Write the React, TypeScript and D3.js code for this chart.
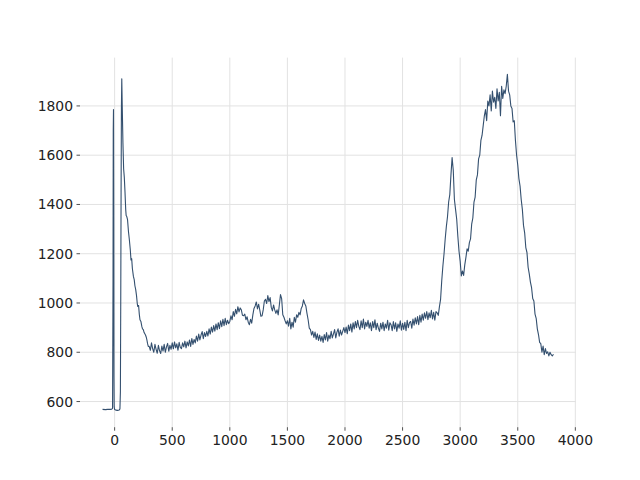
import React from 'react';
import * as d3 from 'd3';

// Leading section (two sharp spikes and the decay), irregular sampling
const headX = [-105, -80, -60, -40, -25, -18, -14, -12, -10, -8, -6, -4, 0, 10, 25, 40, 46, 50, 53, 56, 59, 62, 66, 72, 78, 84, 90, 96, 100, 106, 112, 120, 128, 136, 142, 148, 154, 163, 170, 176, 183, 190, 196, 200, 208, 214, 220, 228, 236, 242, 249, 256, 262, 268, 274, 280, 286, 292];
const headY = [568, 567, 568, 568, 569, 572, 1100, 1700, 1785, 1400, 700, 578, 568, 565, 564, 566, 570, 640, 1000, 1450, 1800, 1910, 1800, 1650, 1545, 1510, 1450, 1380, 1355, 1350, 1338, 1290, 1256, 1215, 1175, 1180, 1140, 1108, 1095, 1070, 1054, 1030, 1000, 986, 990, 955, 932, 925, 905, 895, 892, 880, 875, 870, 862, 850, 835, 824];

// Main section, sampled every 10 units from x = 300
const bodyStart = 300;
const bodyStep = 10;
const bodyY = [
  824, 808, 838, 815, 800, 832, 812, 796, 828, 806, // 300
  795, 825, 805, 832, 800, 822, 836, 804, 828, 812, // 400
  838, 814, 842, 818, 834, 808, 840, 820, 815, 838, // 500
  822, 845, 818, 842, 826, 850, 824, 856, 832, 852, // 600
  838, 866, 845, 874, 850, 870, 884, 855, 880, 864, // 700
  885, 866, 895, 874, 902, 882, 908, 886, 915, 892, // 800
  920, 896, 928, 904, 934, 908, 938, 912, 930, 916, // 900
  925, 948, 932, 965, 946, 974, 956, 985, 964, 980, // 1000
  972, 950, 948, 955, 932, 944, 922, 912, 934, 918, // 1100
  952, 978, 988, 1004, 976, 995, 972, 946, 948, 972, // 1200
  1008, 1015, 998, 1030, 1006, 1022, 982, 968, 992, 972, // 1300
  958, 972, 952, 992, 1034, 1018, 952, 942, 928, 915, // 1400
  928, 906, 938, 895, 922, 902, 942, 922, 952, 942, // 1500
  962, 952, 978, 988, 1013, 998, 988, 958, 932, 898, // 1600
  892, 870, 885, 860, 882, 852, 875, 848, 870, 845, // 1700
  865, 840, 872, 850, 880, 845, 870, 855, 885, 858, // 1800
  875, 892, 858, 882, 895, 865, 890, 870, 885, 900, // 1900
  880, 902, 875, 910, 888, 915, 882, 920, 895, 925, // 2000
  900, 930, 905, 892, 928, 900, 935, 895, 922, 905, // 2100
  930, 898, 920, 888, 925, 900, 932, 892, 918, 898, // 2200
  885, 918, 895, 922, 888, 915, 898, 930, 890, 920, // 2300
  912, 888, 925, 895, 920, 885, 915, 898, 928, 890, // 2400
  918, 893, 922, 888, 930, 900, 920, 925, 898, 935, // 2500
  910, 940, 915, 945, 912, 950, 922, 955, 930, 960, // 2600
  938, 965, 932, 960, 940, 970, 935, 962, 930, 965, // 2700
  960, 950, 985, 1015, 1090, 1150, 1200, 1260, 1310, 1350, // 2800
  1410, 1440, 1520, 1590, 1540, 1420, 1380, 1340, 1270, 1210, // 2900
  1170, 1110, 1130, 1112, 1155, 1185, 1220, 1210, 1245, 1260, // 3000
  1320, 1345, 1410, 1430, 1500, 1520, 1585, 1600, 1660, 1680, // 3100
  1720, 1760, 1785, 1740, 1820, 1800, 1845, 1780, 1860, 1815, // 3200
  1835, 1790, 1870, 1820, 1855, 1760, 1880, 1830, 1865, 1850, // 3300
  1880, 1928, 1860, 1845, 1800, 1790, 1735, 1740, 1660, 1600, // 3400
  1560, 1505, 1475, 1420, 1380, 1315, 1285, 1225, 1205, 1145, // 3500
  1118, 1085, 1062, 1018, 1008, 955, 938, 895, 872, 840, // 3600
  835, 800, 825, 790, 815, 795, 802, 785, 800, 790, // 3700
  785, 792 // 3800
];

const xTicks = [0, 500, 1000, 1500, 2000, 2500, 3000, 3500, 4000];
const yTicks = [600, 800, 1000, 1200, 1400, 1600, 1800];

export default function App() {
  const W = 640, H = 480;
  const left = 80, right = 576, top = 57.6, bottom = 427.2;

  const xs = headX.concat(bodyY.map((_, i) => bodyStart + i * bodyStep));
  const ys = headY.concat(bodyY);
  const [x0, x1] = d3.extent(xs) as [number, number];
  const [y0, y1] = d3.extent(ys) as [number, number];
  const mx = (x1 - x0) * 0.05, my = (y1 - y0) * 0.05;

  const x = d3.scaleLinear().domain([x0 - mx, x1 + mx]).range([left, right]);
  const y = d3.scaleLinear().domain([y0 - my, y1 + my]).range([bottom, top]);

  const pts: [number, number][] = xs.map((v, i) => [v, ys[i]]);
  const line = d3.line<[number, number]>().x(d => x(d[0])).y(d => y(d[1]));

  const font = '"DejaVu Sans", sans-serif';
  const grid = '#e2e2e2';

  return (
    <svg width={W} height={H} style={{ position: 'absolute', left: 0, top: 0, background: '#fff' }}>
      <rect x={0} y={0} width={W} height={H} fill="#fff" />
      {xTicks.map(t => (
        <line key={'gx' + t} x1={x(t)} x2={x(t)} y1={top} y2={bottom} stroke={grid} strokeWidth={1} />
      ))}
      {yTicks.map(t => (
        <line key={'gy' + t} x1={left} x2={right} y1={y(t)} y2={y(t)} stroke={grid} strokeWidth={1} />
      ))}
      <path d={line(pts) || ''} fill="none" stroke="#34506f" strokeWidth={1.1} strokeLinejoin="round" />
      {xTicks.map(t => (
        <g key={'tx' + t}>
          <line x1={x(t)} x2={x(t)} y1={bottom} y2={bottom + 3.5} stroke="#222" strokeWidth={0.8} />
          <text x={x(t)} y={bottom + 17.5} textAnchor="middle" fontFamily={font} fontSize={13.9} fill="#222">{t}</text>
        </g>
      ))}
      {yTicks.map(t => (
        <g key={'ty' + t}>
          <line x1={left - 3.5} x2={left} y1={y(t)} y2={y(t)} stroke="#222" strokeWidth={0.8} />
          <text x={left - 7} y={y(t) + 5} textAnchor="end" fontFamily={font} fontSize={13.9} fill="#222">{t}</text>
        </g>
      ))}
    </svg>
  );
}
